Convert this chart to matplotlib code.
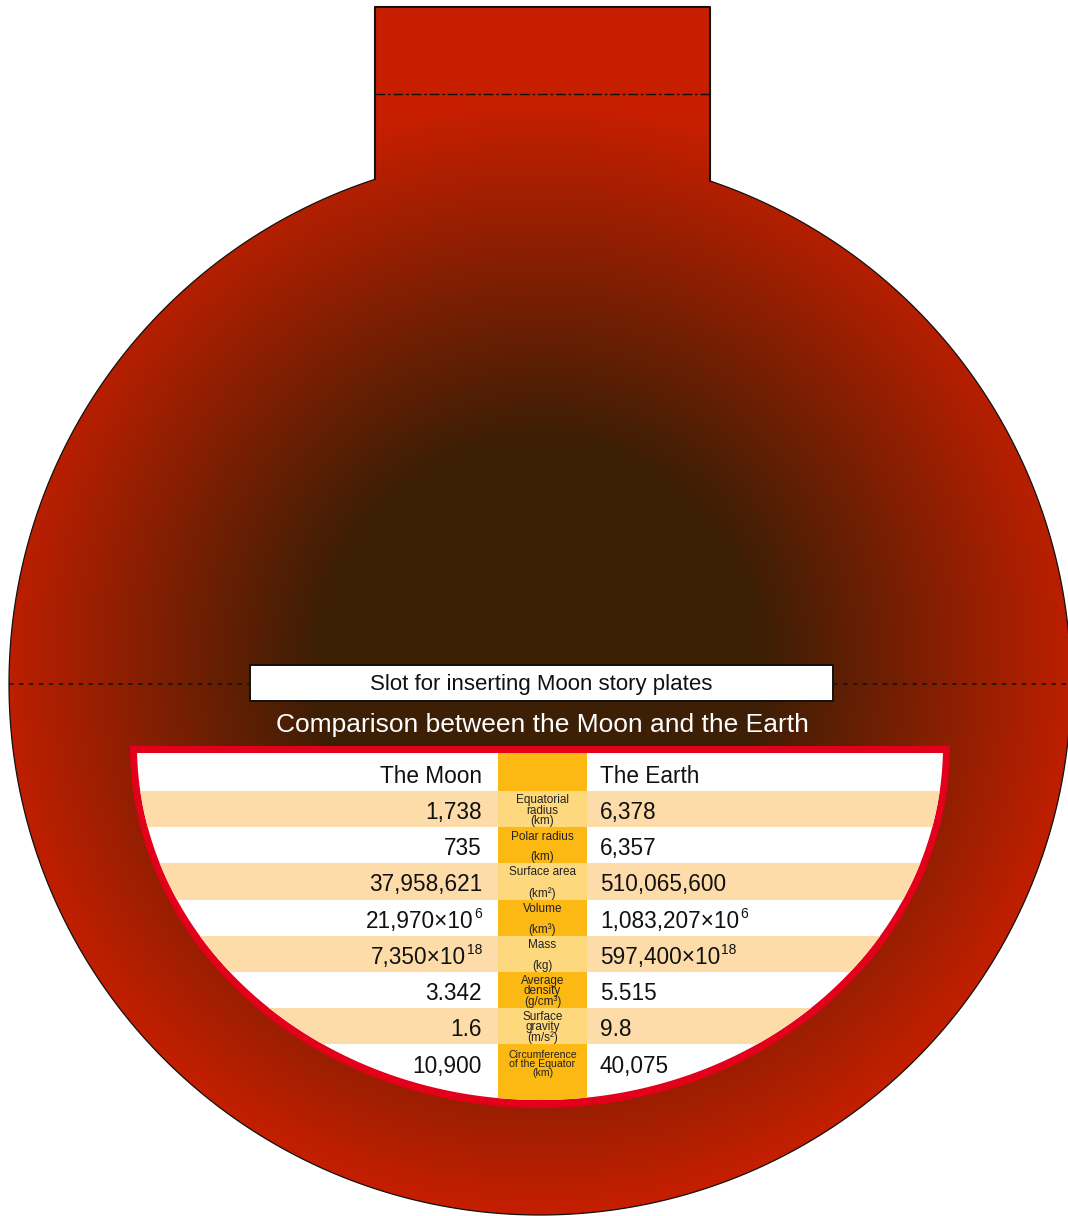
# -*- coding: utf-8 -*-
"""
Moon / Earth comparison card: red disc with a tab, slot and a bowl table.
"""

import matplotlib.pyplot as plt
import numpy as np
from matplotlib.colors import LinearSegmentedColormap
from matplotlib.patches import PathPatch, Polygon, Rectangle
from matplotlib.path import Path

# ---------------- #
# table content    #
# ---------------- #
header_left = "The Moon"
header_right = "The Earth"

metrics = [
    "Equatorial\nradius\n(km)",
    "Polar radius\n\n(km)",
    "Surface area\n\n(km²)",
    "Volume\n\n(km³)",
    "Mass\n\n(kg)",
    "Average\ndensity\n(g/cm³)",
    "Surface\ngravity\n(m/s²)",
    "Circumference\nof the Equator\n(km)",
]
moon_values = ["1,738", "735", "37,958,621", "21,970×10", "7,350×10",
               "3.342", "1.6", "10,900"]
moon_exp = ["", "", "", "6", "18", "", "", ""]
earth_values = ["6,378", "6,357", "510,065,600", "1,083,207×10",
                "597,400×10", "5.515", "9.8", "40,075"]
earth_exp = ["", "", "", "6", "18", "", "", ""]

title = "Comparison between the Moon and the Earth"
slot_label = "Slot for inserting Moon story plates"


def draw_card():

    plt.rcParams["font.family"] = ["Liberation Sans", "DejaVu Sans"]

    W, H = 1068, 1216
    fig = plt.figure(figsize=(W / 100, H / 100), dpi=100, facecolor="white")
    ax = fig.add_axes([0, 0, 1, 1])
    ax.set_xlim(0, W)
    ax.set_ylim(H, 0)
    ax.axis("off")
    renderer = fig.canvas.get_renderer()

    # -------------------------- #
    # disc + tab outline path    #
    # -------------------------- #
    cx, cy, R = 540, 684, 531
    tab_l, tab_r, tab_top = 375, 710, 7
    t_l = np.arccos((tab_l - cx) / R)
    t_r = np.arccos((tab_r - cx) / R)
    tt = np.linspace(t_l, 2 * np.pi + t_r, 600)
    arc = np.column_stack([cx + R * np.cos(tt), cy - R * np.sin(tt)])
    verts = np.vstack([arc, [[tab_r, tab_top], [tab_l, tab_top], arc[0]]])
    body = Path(verts, closed=True)

    # radial gradient fill
    gx, gy = np.meshgrid(np.arange(W) + 0.5, np.arange(H) + 0.5)
    rr = np.clip(np.hypot(gx - 540, gy - 660) / 560, 0, 1)
    cmap = LinearSegmentedColormap.from_list(
        "disc", [(0, "#3c1f05"), (0.4, "#3d1f05"), (1, "#c81e00")]
    )
    im = ax.imshow(rr, cmap=cmap, vmin=0, vmax=1, extent=[0, W, H, 0],
                   interpolation="bilinear", zorder=1)
    body_patch = PathPatch(body, facecolor="none", edgecolor="#111111",
                           lw=0.9, zorder=3)
    ax.add_patch(body_patch)
    im.set_clip_path(body_patch)

    # thicker tab border
    y_l = cy - R * np.sin(t_l)
    y_r = cy - R * np.sin(t_r)
    ax.plot([tab_l, tab_l, tab_r, tab_r], [y_l, tab_top, tab_top, y_r],
            color="#111111", lw=1.5, zorder=4)

    # fold line on tab
    ax.plot([tab_l, tab_r], [94, 94], color="#111111", lw=1.0,
            ls=(0, (7, 2, 2, 2)), zorder=4)

    # -------------------------- #
    # slot + equator dashed line #
    # -------------------------- #
    ax.plot([cx - R, 250], [684, 684], color="#111111", lw=1.1,
            ls=(0, (3, 3.5)), zorder=4)
    ax.plot([833, W], [684, 684], color="#111111", lw=1.1,
            ls=(0, (3, 3.5)), zorder=4)
    ax.add_patch(Rectangle((250, 665), 583, 36, facecolor="white",
                           edgecolor="#111111", lw=1.4, zorder=5))
    ax.text(541, 690, slot_label, ha="center", va="baseline",
            fontsize=16, color="#111111", zorder=6)

    ax.text(542, 732, title, ha="center", va="baseline",
            fontsize=19, color="white", zorder=6)

    # -------------------------- #
    # bowl shaped table          #
    # -------------------------- #
    tb = np.linspace(0, np.pi, 400)
    outer = np.column_stack([540 + 410 * np.cos(tb), 746 + 362 * np.sin(tb)])
    ax.add_patch(Polygon(outer, closed=True, facecolor="#e2001a",
                         edgecolor="none", zorder=5))
    inner = np.column_stack([540 + 403 * np.cos(tb),
                             np.maximum(746 + 354 * np.sin(tb), 753)])
    inner_patch = Polygon(inner, closed=True, facecolor="white",
                          edgecolor="none", zorder=6)
    ax.add_patch(inner_patch)

    row_top, row_h = 791, 36.2
    mid_l, mid_r = 498, 587
    peach, light, dark = "#fddcaa", "#fdd87d", "#fdb913"
    fs_val, fs_exp = 16.3, 10
    txt = dict(color="#111111", zorder=9, va="baseline")

    # header middle cell
    cell = Rectangle((mid_l, 740), mid_r - mid_l, row_top - 740,
                     facecolor=dark, edgecolor="none", zorder=8)
    ax.add_patch(cell)
    cell.set_clip_path(inner_patch)
    ax.text(482, row_top - 8, header_left, ha="right", fontsize=fs_val, **txt)
    ax.text(600, row_top - 8, header_right, ha="left", fontsize=fs_val, **txt)

    rows = zip(metrics, moon_values, moon_exp, earth_values, earth_exp)
    for i, (lab, mv, me, ev, ee) in enumerate(rows):
        y0 = row_top + i * row_h
        last = i == len(metrics) - 1
        h = 1120 - y0 if last else row_h
        if i % 2 == 0:
            band = Rectangle((0, y0), W, row_h, facecolor=peach,
                             edgecolor="none", zorder=7)
            ax.add_patch(band)
            band.set_clip_path(inner_patch)
        cell = Rectangle((mid_l, y0), mid_r - mid_l, h,
                         facecolor=light if i % 2 == 0 else dark,
                         edgecolor="none", zorder=8)
        ax.add_patch(cell)
        cell.set_clip_path(inner_patch)

        base = y0 + row_h / 2 + 10

        # moon: right aligned, exponent last
        x_end = 482
        if me:
            t = ax.text(x_end, base - 10, me, ha="right", fontsize=fs_exp, **txt)
            x_end -= t.get_window_extent(renderer).width + 1
        ax.text(x_end, base, mv, ha="right", fontsize=fs_val, **txt)

        # earth: left aligned, exponent after
        t = ax.text(600, base, ev, ha="left", fontsize=fs_val, **txt)
        if ee:
            x_exp = 600 + t.get_window_extent(renderer).width + 1
            ax.text(x_exp, base - 10, ee, ha="left", fontsize=fs_exp, **txt)

        ax.text((mid_l + mid_r) / 2, y0 + row_h / 2 + 1.5, lab,
                ha="center", va="center",
                fontsize=7.6 if last else 8.5,
                linespacing=0.88 if last else 0.8,
                color="#222222", zorder=9)

    fig.savefig("out.png", dpi=100, facecolor="white")


if __name__ == "__main__":
    draw_card()
